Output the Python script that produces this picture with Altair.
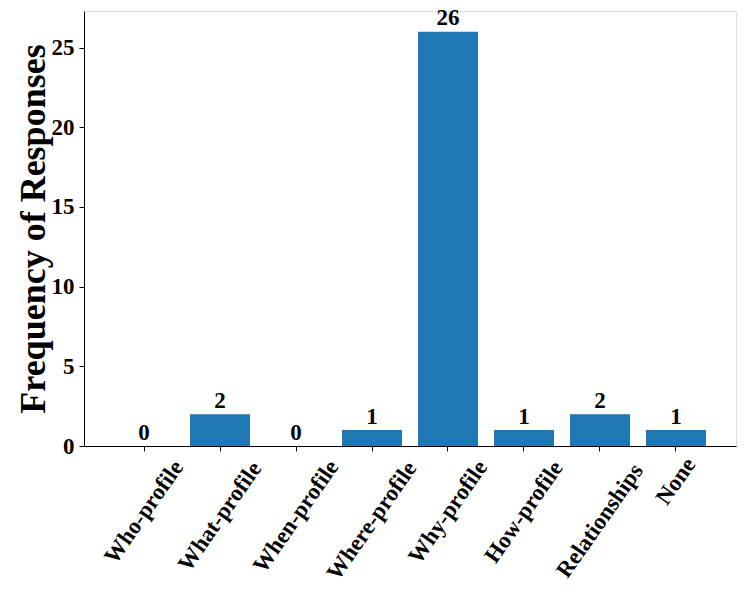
import altair as alt
import pandas as pd

categories = ["Who-profile", "What-profile", "When-profile", "Where-profile",
              "Why-profile", "How-profile", "Relationships", "None"]
counts = [0, 2, 0, 1, 26, 1, 2, 1]
y_ticks = [0, 5, 10, 15, 20, 25]

df = pd.DataFrame({"category": categories, "count": counts})

FONT = "Liberation Serif"

x_enc = alt.X(
    "category:N",
    sort=categories,
    scale=alt.Scale(paddingInner=0.21, paddingOuter=0.395),
    axis=alt.Axis(
        title=None,
        labelAngle=305,
        labelAlign="center",
        labelBaseline="middle",
        labelPadding={"expr": "12.3 + 4.39*length(datum.value)"},
        labelOverlap=False,
        labelFont=FONT,
        labelFontSize=23,
        labelFontWeight="bold",
        labelColor="black",
        tickSize=5,
        tickColor="black",
        domainColor="black",
        domainWidth=1,
        grid=False,
    ),
)

y_scale = alt.Scale(domain=[0, 27.3], nice=False, zero=True)

bars = alt.Chart(df).mark_bar(color="#1f77b4").encode(
    x=x_enc,
    y=alt.Y(
        "count:Q",
        scale=y_scale,
        axis=alt.Axis(
            title="Frequency of Responses",
            values=y_ticks,
            format="d",
            labelFont=FONT,
            labelFontSize=23,
            labelFontWeight="bold",
            labelColor="black",
            labelPadding=5,
            tickSize=5,
            tickColor="black",
            domainColor="black",
            domainWidth=1,
            grid=False,
            titleFont=FONT,
            titleFontSize=36,
            titleFontWeight="bold",
            titleColor="black",
            titleAngle=270,
            titleAlign="center",
            titleBaseline="alphabetic",
            titleX=-40,
            titleY=217.5,
        ),
    ),
)

labels = alt.Chart(df).mark_text(
    baseline="alphabetic",
    align="center",
    dy=-6.5,
    font=FONT,
    fontSize=23,
    fontWeight="bold",
    color="black",
).encode(
    x=alt.X("category:N", sort=categories),
    y=alt.Y("count:Q", scale=y_scale),
    text=alt.Text("count:Q", format="d"),
)

chart = alt.layer(bars, labels).properties(
    width=652,
    height=435,
    autosize=alt.AutoSizeParams(type="none"),
    padding={"left": 76, "top": 3, "right": 3, "bottom": 145},
).configure_view(
    stroke="black",
    strokeWidth=1,
).configure(background="white")

chart.save("out.html", embed_options={"renderer": "svg", "actions": False})
